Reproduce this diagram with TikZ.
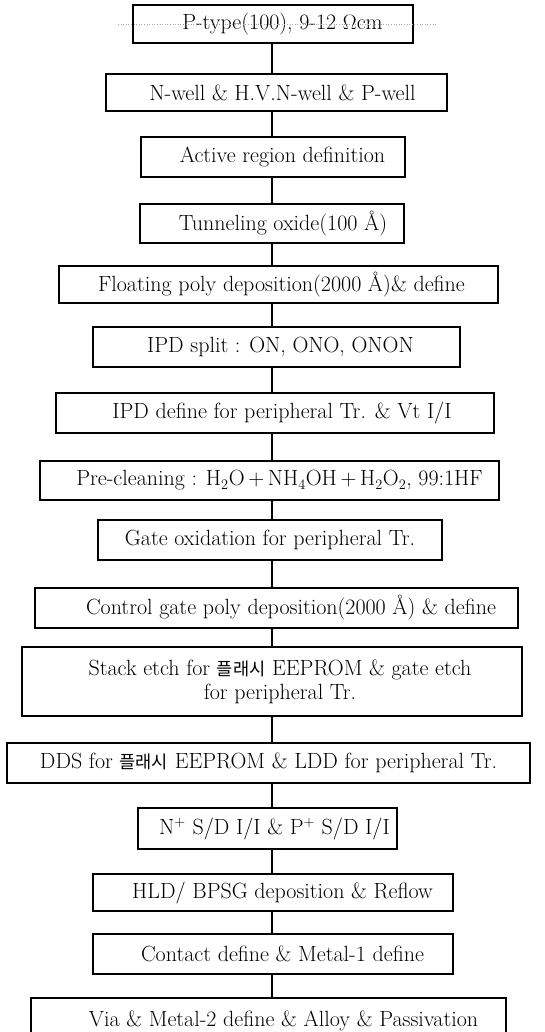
\documentclass[tikz,border=0pt]{standalone}
\usepackage{fontspec}
\newfontfamily\kr{Noto Sans CJK KR}[Scale=0.8]
\tikzset{
  stepbox/.style={draw, line width=1.2pt, minimum height=39pt, inner sep=0pt,
    font=\fontsize{22}{24}\selectfont\addfontfeatures{LetterSpace=4}, align=center},
  link/.style={line width=1.2pt}
}
\begin{document}
\begin{tikzpicture}
\useasboundingbox (0pt,0pt) rectangle (544pt,-1032pt);
\clip (0pt,0pt) rectangle (544pt,-1032pt);
\coordinate (spine) at (272pt,0pt);
\node[stepbox, minimum width=280pt, minimum height=38pt] (s1) at (273pt,-24pt) {\hspace*{19pt}P-type(100),\ 9-12 $\Omega$cm};
\node[stepbox, minimum width=341pt, minimum height=37pt] (s2) at (276.5pt,-92.5pt) {\hspace*{12pt}N-well \& H.V.N-well \& P-well};
\node[stepbox, minimum width=264pt, minimum height=40pt] (s3) at (273pt,-157pt) {\hspace*{19pt}Active region definition};
\node[stepbox, minimum width=264pt] (s4) at (272pt,-223.5pt) {\hspace*{22pt}Tunneling oxide(100 Å)};
\node[stepbox, minimum width=439pt, minimum height=37pt] (s5) at (278.5pt,-284.5pt) {\hspace*{6pt}Floating poly deposition(2000 Å)\& define};
\node[stepbox, minimum width=367pt, minimum height=40pt] (s6) at (276.5pt,-347pt) {\hspace*{8pt}IPD split : ON, ONO, ONON};
\node[stepbox, minimum width=438pt, minimum height=40pt] (s7) at (275pt,-413pt) {\hspace*{14pt}IPD define for peripheral Tr. \& Vt I/I};
\node[stepbox, minimum width=459pt] (s8) at (269.5pt,-480.5pt) {\hspace*{20pt}Pre-cleaning : H$_2$O\,+\,NH$_4$OH\,+\,H$_2$O$_2$, 99:1HF};
\node[stepbox, minimum width=344pt, minimum height=40pt] (s9) at (270pt,-540pt) {Gate oxidation for peripheral Tr.};
\node[stepbox, minimum width=483pt, minimum height=40pt] (s10) at (276.5pt,-608pt) {\hspace*{29pt}Control gate poly deposition(2000 Å) \& define};
\node[stepbox, minimum width=500pt, minimum height=69pt] (s11) at (272pt,-681.5pt) {\hspace*{16pt}Stack etch for {\kr 플래시} EEPROM \& gate etch\\\hspace*{16pt}for peripheral Tr.};
\node[stepbox, minimum width=523pt, minimum height=40pt] (s12) at (268.5pt,-763pt) {DDS for {\kr 플래시} EEPROM \& LDD for peripheral Tr.};
\node[stepbox, minimum width=259pt, minimum height=41pt] (s13) at (267.5pt,-828.5pt) {\hspace*{14pt}N$^+$ S/D I/I \& P$^+$ S/D I/I};
\node[stepbox, minimum width=360pt, minimum height=37pt] (s14) at (273pt,-892.5pt) {\hspace*{19pt}HLD/ BPSG deposition \& Reflow};
\node[stepbox, minimum width=360pt, minimum height=40pt] (s15) at (273pt,-954pt) {\hspace*{19pt}Contact define \& Metal-1 define};
\node[stepbox, minimum width=475pt, minimum height=46pt] (s16) at (268.5pt,-1021pt) {\hspace*{30pt}Via \& Metal-2 define \& Alloy \& Passivation};
\draw[dotted, gray!70, line width=0.6pt] (118pt,-24pt) -- (437pt,-24pt);
\foreach \a/\b in {s1/s2,s2/s3,s3/s4,s4/s5,s5/s6,s6/s7,s7/s8,s8/s9,s9/s10,s10/s11,s11/s12,s12/s13,s13/s14,s14/s15,s15/s16}
  \draw[link] (\a.south -| spine) -- (\b.north -| spine);
\end{tikzpicture}
\end{document}
